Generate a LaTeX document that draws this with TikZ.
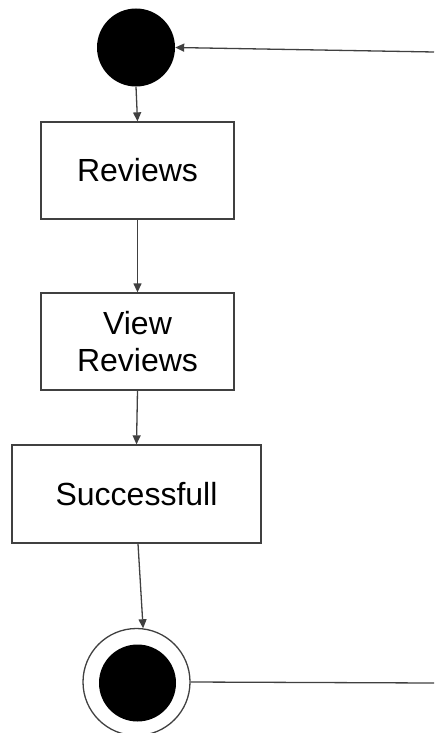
\documentclass[tikz,border=0pt]{standalone}
\usepackage{fontspec}
\setmainfont{Liberation Sans}
\usetikzlibrary{arrows.meta}
\begin{document}
\begin{tikzpicture}[x=1pt,y=-1pt,
  line/.style={draw=black!75, line width=1.3pt},
  flow/.style={line, -{Triangle[length=9pt,width=8pt]}},
  actbox/.style={line, rectangle, align=center, inner sep=0pt,
    font=\fontsize{32}{37}\selectfont},
  dot/.style={circle, fill=black, draw=none, inner sep=0pt}]
  \useasboundingbox (0,0) rectangle (434,733);

  % states and activities
  \node[dot, minimum size=78pt] (start) at (136,47.5) {};
  \node[actbox, minimum width=193pt, minimum height=97pt] (reviews) at (137.5,170.5) {Reviews};
  \node[actbox, minimum width=193pt, minimum height=97pt] (view) at (137.5,341.5) {View\\Reviews};
  \node[actbox, minimum width=249pt, minimum height=98pt] (succ) at (136.5,494) {Successfull};
  \node[circle, line, fill=white, minimum size=107pt, inner sep=0pt] (final) at (136.5,682) {};
  \node[dot, minimum size=77pt] (finalin) at (137.5,683) {};

  % free ends at the right border
  \coordinate (loopin) at (434,52);
  \coordinate (loopout) at (434,683);

  % connectors
  \draw[flow] (loopin) -- (start.east);
  \draw[flow] (start.south) -- (reviews.north);
  \draw[flow] (reviews.south) -- (view.north);
  \draw[flow] (view.south) -- (succ.north);
  \draw[flow] ([xshift=1.5pt]succ.south) -- (final.83);
  \draw[line] (final.east) -- (loopout);
\end{tikzpicture}
\end{document}
